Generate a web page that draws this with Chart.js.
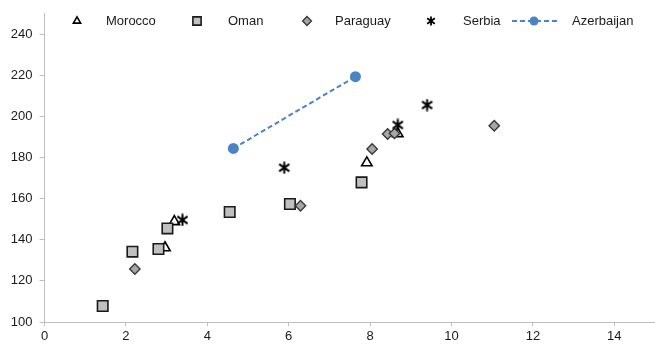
<!DOCTYPE html>
<html>
<head>
<meta charset="utf-8">
<script src="https://cdn.jsdelivr.net/npm/chart.js@4.4.1/dist/chart.umd.min.js"></script>
<style>
  html, body { margin: 0; padding: 0; background: #ffffff; }
  #wrap { width: 655px; height: 345px; position: relative; }
</style>
</head>
<body>
<div id="wrap"><canvas id="chart" width="655" height="345"></canvas></div>
<script>
// Series names as shown in the legend
const seriesNames = ['Morocco', 'Oman', 'Paraguay', 'Serbia', 'Azerbaijan'];

// Point values (x, y) per country
const moroccoX = [2.96, 3.19, 7.92, 8.68];
const moroccoY = [136.1, 148.8, 177.4, 191.6];

const omanX = [1.43, 2.16, 2.80, 3.02, 4.55, 6.03, 7.79];
const omanY = [107.8, 134.2, 135.5, 145.5, 153.5, 157.4, 167.9];

const paraguayX = [2.22, 6.29, 8.05, 8.43, 8.60, 11.05];
const paraguayY = [125.8, 156.5, 184.1, 191.4, 191.7, 195.4];

const serbiaX = [3.39, 5.89, 8.68, 9.40];
const serbiaY = [149.6, 175.0, 195.8, 205.5];

const azerbaijanX = [4.64, 7.64];
const azerbaijanY = [184.4, 219.3];

// Axis ranges and tick steps
const xRange = [0, 15];
const xStep = 2;
const yRange = [100, 250];
const yStep = 20;

const FONT = "'Liberation Sans', Arial, sans-serif";
const TEXT = '#1a1a1a';
const AXIS = '#bfbfbf';
const BLUE = '#4a84c4';

const toPoints = (xs, ys) => xs.map((x, i) => ({ x: x, y: ys[i] }));

// Asterisk marker: an X crossed by a vertical bar
function asterisk(size, lw) {
  const c = document.createElement('canvas');
  c.width = size; c.height = size;
  const g = c.getContext('2d');
  g.strokeStyle = '#000000';
  g.lineWidth = lw;
  const m = size / 2, r = size / 2 - 0.5;
  const dx = r * 0.85, dy = r * 0.6;
  g.beginPath();
  g.moveTo(m, m - r); g.lineTo(m, m + r);
  g.moveTo(m - dx, m - dy); g.lineTo(m + dx, m + dy);
  g.moveTo(m + dx, m - dy); g.lineTo(m - dx, m + dy);
  g.stroke();
  return c;
}
const starBig = asterisk(13, 2);
const starSmall = asterisk(10, 1.8);

const datasets = [
  {
    label: seriesNames[0], data: toPoints(moroccoX, moroccoY), order: 5,
    pointStyle: 'triangle', pointRadius: 6, pointBorderWidth: 1.6,
    pointBackgroundColor: '#ffffff', pointBorderColor: '#000000',
    legendRadius: 4.2
  },
  {
    label: seriesNames[1], data: toPoints(omanX, omanY), order: 4,
    pointStyle: 'rect', pointRadius: 7.4, pointBorderWidth: 1.6,
    pointBackgroundColor: '#c0c0c0', pointBorderColor: '#1a1a1a',
    legendRadius: 5.8
  },
  {
    label: seriesNames[2], data: toPoints(paraguayX, paraguayY), order: 3,
    pointStyle: 'rectRot', pointRadius: 5.2, pointBorderWidth: 1.4,
    pointBackgroundColor: '#a6a6a6', pointBorderColor: '#3a3a3a',
    legendRadius: 4.4
  },
  {
    label: seriesNames[3], data: toPoints(serbiaX, serbiaY), order: 2,
    pointStyle: starBig, pointRadius: 6,
    legendStyle: starSmall
  },
  {
    label: seriesNames[4], data: toPoints(azerbaijanX, azerbaijanY), order: 1,
    showLine: true, borderColor: BLUE, borderWidth: 2, borderDash: [5, 3],
    pointStyle: 'circle', pointRadius: 5.5, pointBorderWidth: 0,
    pointBackgroundColor: BLUE, pointBorderColor: BLUE,
    legendRadius: 4.5, legendLine: true
  }
];

// Legend drawn inside the plot area, along the top
const legendSlots = [
  { marker: 77, text: 106 },
  { marker: 197, text: 228 },
  { marker: 307, text: 335 },
  { marker: 431, text: 463 },
  { marker: 534, text: 572, line: [512, 557] }
];
const insideLegend = {
  id: 'insideLegend',
  afterDraw(chart) {
    const ctx = chart.ctx;
    const y = 21;
    chart.data.datasets.forEach((ds, i) => {
      const slot = legendSlots[i];
      ctx.save();
      if (slot.line) {
        ctx.strokeStyle = ds.borderColor;
        ctx.lineWidth = ds.borderWidth;
        ctx.setLineDash(ds.borderDash);
        ctx.beginPath();
        ctx.moveTo(slot.line[0], y);
        ctx.lineTo(slot.line[1], y);
        ctx.stroke();
        ctx.setLineDash([]);
      }
      ctx.fillStyle = ds.pointBackgroundColor || '#000';
      ctx.strokeStyle = ds.pointBorderColor || '#000';
      ctx.lineWidth = ds.pointBorderWidth || 0;
      Chart.helpers.drawPoint(ctx, {
        pointStyle: ds.legendStyle || ds.pointStyle,
        radius: ds.legendRadius || 4,
        borderWidth: ds.pointBorderWidth || 0,
        rotation: 0
      }, slot.marker, y);
      ctx.fillStyle = TEXT;
      ctx.font = '13px ' + FONT;
      ctx.textAlign = 'left';
      ctx.textBaseline = 'middle';
      ctx.fillText(ds.label, slot.text, y);
      ctx.restore();
    });
  }
};

new Chart(document.getElementById('chart'), {
  type: 'scatter',
  data: { datasets: datasets },
  options: {
    responsive: false,
    animation: false,
    devicePixelRatio: 1,
    layout: { autoPadding: false, padding: { top: 13.5, right: -2, left: 0, bottom: 0 } },
    plugins: {
      legend: { display: false },
      tooltip: { enabled: false }
    },
    scales: {
      x: {
        type: 'linear', min: xRange[0], max: xRange[1],
        afterFit(s) { s.height = 23; s.paddingLeft = 0; s.paddingRight = 0; },
        border: { color: AXIS, width: 1 },
        grid: { drawOnChartArea: false, drawTicks: true, tickLength: 4, color: AXIS, lineWidth: 1 },
        ticks: { stepSize: xStep, includeBounds: false, color: TEXT, padding: 3, maxRotation: 0,
                 font: { family: FONT, size: 13 } }
      },
      y: {
        type: 'linear', min: yRange[0], max: yRange[1],
        afterFit(s) { s.width = 44.5; s.paddingTop = 0; s.paddingBottom = 0; },
        border: { color: AXIS, width: 1 },
        grid: { drawOnChartArea: false, drawTicks: true, tickLength: 5, color: AXIS, lineWidth: 1 },
        ticks: { stepSize: yStep, includeBounds: false, color: TEXT, padding: 7,
                 font: { family: FONT, size: 13 } }
      }
    }
  },
  plugins: [insideLegend]
});
</script>
</body>
</html>
